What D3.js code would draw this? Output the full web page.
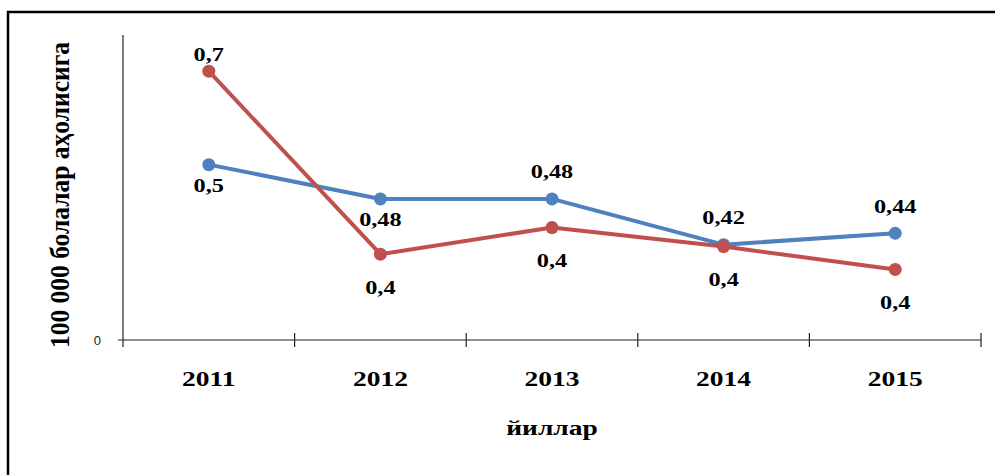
<!DOCTYPE html>
<html>
<head>
<meta charset="utf-8">
<script src="https://cdn.jsdelivr.net/npm/d3@7.9.0/dist/d3.min.js"></script>
<style>
  body { margin: 0; background: #fff; }
  svg { display: block; }
  text { font-family: "Liberation Serif", "Times New Roman", serif; font-weight: bold; fill: #000; }
</style>
</head>
<body>
<svg id="chart" width="995" height="475"></svg>
<script>
const years = ['2011', '2012', '2013', '2014', '2015'];
// plotted values (read from point positions)
const blueValues = [0.46, 0.37, 0.37, 0.25, 0.28];
const redValues = [0.705, 0.225, 0.295, 0.245, 0.185];
// labels as printed on the chart
const blueLabels = ['0,5', '0,48', '0,48', '0,42', '0,44'];
const redLabels = ['0,7', '0,4', '0,4', '0,4', '0,4'];
const blueLabelSide = ['belowNear', 'belowNear', 'above', 'above', 'above'];
const redLabelSide = ['aboveNear', 'below', 'below', 'below', 'below'];
const yTicks = [0];

const labelOffset = { above: -27, aboveNear: -17, below: 33, belowNear: 21 };

const svg = d3.select('#chart');

// outer frame (right/bottom edges run off the picture)
svg.append('rect')
  .attr('x', 8).attr('y', 12)
  .attr('width', 1100).attr('height', 600)
  .attr('fill', 'none').attr('stroke', '#000').attr('stroke-width', 2.5);

const x = d3.scaleBand().domain(years).range([123, 981]);
const y = d3.scaleLinear().domain([0, 0.8]).range([340, 35]);

// y axis line
svg.append('line')
  .attr('x1', 123).attr('x2', 123)
  .attr('y1', y(0.8)).attr('y2', y(0))
  .attr('stroke', '#222').attr('stroke-width', 1.2);

// y tick labels
svg.selectAll('.ytick')
  .data(yTicks)
  .enter().append('text')
  .attr('class', 'ytick')
  .attr('x', 101).attr('y', d => y(d))
  .attr('dy', '0.35em')
  .attr('text-anchor', 'end')
  .style('font-family', 'Arial, "Liberation Sans", sans-serif')
  .style('font-weight', 'normal')
  .style('font-size', '13px')
  .style('fill', '#222')
  .text(d => d);

// x axis
svg.append('line')
  .attr('x1', 118).attr('x2', 981)
  .attr('y1', y(0)).attr('y2', y(0))
  .attr('stroke', '#222').attr('stroke-width', 1.2);

const tickXs = years.map(d => x(d)).concat([x(years[years.length - 1]) + x.bandwidth()]);
svg.selectAll('.xtick')
  .data(tickXs)
  .enter().append('line')
  .attr('class', 'xtick')
  .attr('x1', d => d).attr('x2', d => d)
  .attr('y1', (d, i) => i === 0 ? y(0) : y(0) - 7)
  .attr('y2', y(0) + 7)
  .attr('stroke', '#222').attr('stroke-width', 1.2);

svg.selectAll('.xlabel')
  .data(years)
  .enter().append('text')
  .attr('class', 'xlabel')
  .attr('transform', d => `translate(${x(d) + x.bandwidth() / 2},378) scale(1.25,1)`)
  .attr('dy', '0.35em')
  .attr('text-anchor', 'middle')
  .style('font-size', '22px')
  .text(d => d);

// axis titles
svg.append('text')
  .attr('transform', 'translate(552,427) scale(1.25,1)')
  .attr('dy', '0.35em')
  .attr('text-anchor', 'middle')
  .style('font-size', '22px')
  .text('йиллар');

svg.append('text')
  .attr('transform', 'translate(59,195) scale(1.08,1) rotate(-90)')
  .attr('dy', '0.35em')
  .attr('text-anchor', 'middle')
  .style('font-size', '25.5px')
  .text('100 000  болалар аҳолисига');

// series
const series = [
  { values: blueValues, labels: blueLabels, sides: blueLabelSide, color: '#4f81bd' },
  { values: redValues, labels: redLabels, sides: redLabelSide, color: '#c0504d' }
];

const line = d3.line()
  .x((d, i) => x(years[i]) + x.bandwidth() / 2)
  .y(d => y(d));

series.forEach(s => {
  svg.append('path')
    .datum(s.values)
    .attr('d', line)
    .attr('fill', 'none')
    .attr('stroke', s.color)
    .attr('stroke-width', 4)
    .attr('stroke-linejoin', 'round');

  svg.selectAll(null)
    .data(s.values)
    .enter().append('circle')
    .attr('cx', (d, i) => x(years[i]) + x.bandwidth() / 2)
    .attr('cy', d => y(d))
    .attr('r', 6.5)
    .attr('fill', s.color);
});

series.forEach(s => {
  svg.selectAll(null)
    .data(s.values)
    .enter().append('text')
    .attr('transform', (d, i) => {
      const cx = x(years[i]) + x.bandwidth() / 2;
      const cy = y(d) + labelOffset[s.sides[i]];
      return `translate(${cx},${cy}) scale(1.35,1)`;
    })
    .attr('dy', '0.35em')
    .attr('text-anchor', 'middle')
    .style('font-size', '18px')
    .text((d, i) => s.labels[i]);
});
</script>
</body>
</html>
